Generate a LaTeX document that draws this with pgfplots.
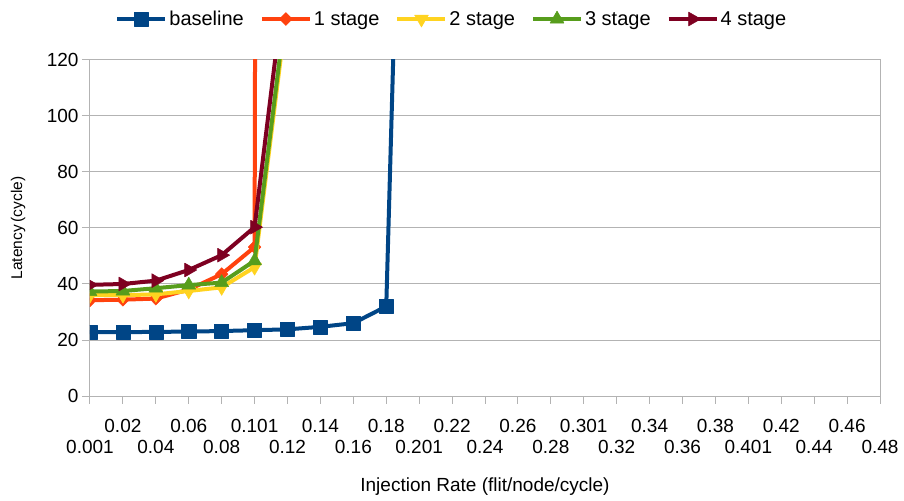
\documentclass[border=0pt]{standalone}
\usepackage{pgfplots}
\pgfplotsset{compat=1.18}
\usepackage{fontspec}
\setmainfont{Liberation Sans}

\definecolor{cBase}{HTML}{004586}
\definecolor{cOne}{HTML}{FF420E}
\definecolor{cTwo}{HTML}{FFD320}
\definecolor{cThree}{HTML}{579D1C}
\definecolor{cFour}{HTML}{7E0021}
\definecolor{gridgray}{HTML}{B3B3B3}

\begin{document}
\begin{tikzpicture}
\begin{axis}[
  scale only axis,
  width=790bp, height=336bp,
  xmin=0, xmax=24,
  ymin=0, ymax=120,
  ytick={0,20,...,120},
  ymajorgrids,
  major grid style={gridgray, line width=1bp},
  axis line style={gridgray, line width=1bp},
  every tick/.style={gridgray, line width=1bp},
  tick align=outside,
  major tick length=8bp,
  xtick pos=bottom, ytick pos=left,
  /pgf/number format/assume math mode=true,
  tick label style={font=\fontsize{19bp}{22bp}\selectfont, text=black},
  % upper row of category labels
  xtick={1,3,...,23},
  xticklabels={0.02,0.06,0.101,0.14,0.18,0.22,0.26,0.301,0.34,0.38,0.42,0.46},
  xticklabel style={yshift=-11.5bp},
  % lower row of category labels
  extra x ticks={0,2,...,24},
  extra x tick labels={0.001,0.04,0.08,0.12,0.16,0.201,0.24,0.28,0.32,0.36,0.401,0.44,0.48},
  extra x tick style={xticklabel style={yshift=-21bp}},
  xlabel={Injection Rate (flit/node/cycle)},
  ylabel={Latency\,(cycle)},
  xlabel style={font=\fontsize{19bp}{22bp}\selectfont, at={(rel axis cs:0.5,-0.271)}, anchor=center},
  ylabel style={font=\fontsize{15.5bp}{18bp}\selectfont, at={(rel axis cs:-0.0911,0.5)}, anchor=center},
  clip marker paths=true,
  every axis plot/.append style={line width=4bp, line join=round},
  legend columns=5,
  legend style={draw=none, fill=none, at={(rel axis cs:0.458,1.122)}, anchor=center,
    font=\fontsize{20bp}{23bp}\selectfont,
    /tikz/every even column/.append style={column sep=14bp}},
  legend image code/.code={\draw[mark repeat=2,mark phase=2,#1] plot coordinates {(0bp,0bp) (24bp,0bp) (48bp,0bp)};},
]
\coordinate (bl) at (rel axis cs:0,0);

\addplot[cBase, mark=square*, mark size=7bp, mark options={solid, line width=0.5bp}]
  coordinates {(0,22.8)(1,22.8)(2,22.9)(3,23.0)(4,23.2)(5,23.5)(6,23.8)(7,24.7)(8,26.0)(9,32.0)(10,450)};
\addlegendentry{baseline}

\addplot[cOne, mark=diamond*, mark size=6.5bp, mark options={solid, line width=0.5bp, xscale=1.3}]
  coordinates {(0,34.2)(1,34.4)(2,34.8)(3,38.0)(4,43.5)(5,53.2)(6,5000)};
\addlegendentry{1 stage}

\addplot[cTwo, mark=triangle*, mark size=8bp, mark options={solid, line width=0.5bp, rotate=180}]
  coordinates {(0,36.0)(1,36.0)(2,36.3)(3,37.5)(4,38.8)(5,46.0)(6,140)};
\addlegendentry{2 stage}

\addplot[cThree, mark=triangle*, mark size=8bp, mark options={solid, line width=0.5bp}]
  coordinates {(0,37.3)(1,37.5)(2,38.5)(3,39.6)(4,40.5)(5,48.3)(6,143)};
\addlegendentry{3 stage}

\addplot[cFour, mark=triangle*, mark size=8bp, mark options={solid, line width=0.5bp, rotate=-90}]
  coordinates {(0,39.7)(1,40.0)(2,41.2)(3,45.0)(4,50.3)(5,60.3)(6,156)};
\addlegendentry{4 stage}
\end{axis}
\pgfresetboundingbox
\path (bl) ++(-90bp,-105bp) rectangle ++(904bp,501bp);
\end{tikzpicture}
\end{document}
